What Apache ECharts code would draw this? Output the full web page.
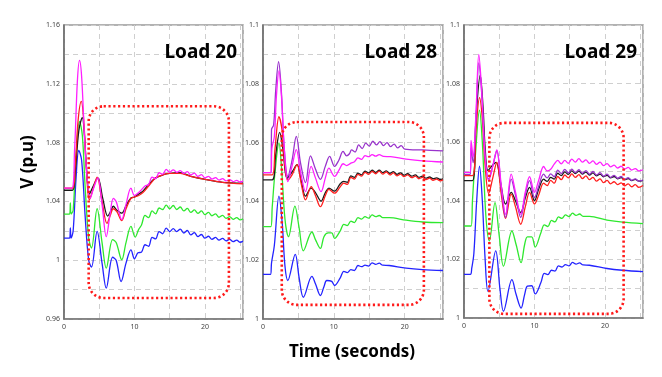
<!DOCTYPE html>
<html>
<head>
<meta charset="utf-8">
<script src="https://cdn.jsdelivr.net/npm/echarts@6/dist/echarts.min.js"></script>
<style>
html,body{margin:0;padding:0;background:#fff;}
#main{width:662px;height:377px;}
</style>
</head>
<body>
<div id="main"></div>
<script>
// panel titles
var panelNames = ['Load 20', 'Load 28', 'Load 29'];
var xTicks = [0, 10, 20];

// Load 20 (time s, voltage p.u.)
var l20Blue = [[0,1.015],[0.8,1.015],[0.9,1.022],[1.0,1.015],[1.3,1.02],[1.7,1.055],[2.1,1.0747],[2.5,1.068],[3.0,1.03],[3.5,1.0],[3.9,0.9953],[4.7,1.0196],[5.4,0.998],[6.0,0.981],[6.9,1.002],[7.4,1.0],[8.1,0.9855],[8.8,0.998],[9.5,1.007],[10.0,1.001],[10.5,1.005],[11.0,1.0055],[11.5,1.0105],[12.0,1.0095],[12.5,1.0155],[13.0,1.0145],[13.5,1.0195],[14.0,1.018],[14.5,1.0218],[15.0,1.0195],[15.5,1.0215],[16.0,1.0195],[16.5,1.0212],[17.0,1.0185],[17.5,1.0202],[18.0,1.0172],[18.5,1.0188],[19.0,1.016],[19.5,1.0175],[20.0,1.015],[20.5,1.0163],[21.0,1.0142],[21.5,1.0155],[22.0,1.0136],[22.5,1.0148],[23.0,1.0131],[23.5,1.0142],[24.0,1.0126],[24.5,1.0137],[25.0,1.0122],[25.4,1.013]];
var l20Green = [[0,1.0314],[0.8,1.0314],[0.9,1.039],[1.0,1.0314],[1.3,1.034],[1.7,1.07],[2.2,1.0945],[2.6,1.085],[3.0,1.05],[3.5,1.015],[3.9,1.0083],[4.7,1.035],[5.4,1.012],[6.0,0.9946],[6.9,1.014],[7.4,1.012],[8.2,1.0003],[8.8,1.012],[9.5,1.023],[10.1,1.0157],[10.6,1.021],[11.0,1.024],[11.5,1.0305],[12.0,1.029],[12.5,1.0335],[13.0,1.0315],[13.5,1.0355],[14.0,1.0345],[14.5,1.0375],[15.0,1.035],[15.5,1.0372],[16.0,1.0345],[16.5,1.0362],[17.0,1.0335],[17.5,1.0352],[18.0,1.0325],[18.5,1.0342],[19.0,1.0318],[19.5,1.0335],[20.0,1.031],[20.5,1.0325],[21.0,1.0302],[21.5,1.0315],[22.0,1.0292],[22.5,1.0305],[23.0,1.0285],[23.5,1.0297],[24.0,1.0278],[24.5,1.029],[25.0,1.0274],[25.4,1.0282]];
var l20Black = [[0,1.0476],[1.2,1.0476],[1.6,1.06],[2.1,1.088],[2.6,1.097],[2.9,1.085],[3.2,1.062],[3.6,1.045],[4.1,1.05],[4.8,1.056],[5.5,1.042],[6.2,1.030],[6.6,1.033],[7.0,1.0367],[7.5,1.034],[8.2,1.032],[8.8,1.037],[9.5,1.0424],[10.0,1.043],[10.6,1.045],[11.2,1.047],[12.1,1.052],[13.0,1.056],[14.0,1.058],[15.0,1.059],[16.5,1.0595],[18,1.057],[20,1.055],[22.5,1.053],[25.4,1.0525]];
var l20Red = [[0,1.049],[1.2,1.049],[1.6,1.065],[2.0,1.095],[2.45,1.108],[2.8,1.095],[3.2,1.06],[3.6,1.041],[4.1,1.048],[4.7,1.0565],[5.4,1.04],[6.1,1.025],[6.6,1.031],[7.0,1.035],[7.5,1.033],[8.2,1.027],[8.8,1.035],[9.5,1.042],[10.0,1.043],[10.6,1.044],[11.2,1.046],[12.1,1.051],[13.0,1.056],[14.0,1.058],[15.0,1.059],[16.5,1.059],[18,1.057],[20,1.055],[22.5,1.053],[25.4,1.052]];
var l20Magenta = [[0,1.049],[1.1,1.049],[1.5,1.075],[1.9,1.122],[2.2,1.136],[2.5,1.125],[2.9,1.085],[3.3,1.055],[3.7,1.042],[4.2,1.049],[4.8,1.056],[5.4,1.038],[6.0,1.016],[6.5,1.03],[7.0,1.042],[7.4,1.04],[8.2,1.0276],[8.8,1.038],[9.5,1.049],[10.0,1.044],[10.6,1.046],[11.0,1.048],[11.5,1.0505],[12.0,1.0515],[12.5,1.0565],[13.0,1.0555],[13.5,1.0595],[14.0,1.0585],[14.5,1.0618],[15.0,1.0598],[15.5,1.0615],[16.0,1.0598],[16.5,1.061],[17.0,1.059],[17.5,1.0602],[18.0,1.058],[18.5,1.0592],[19.0,1.057],[19.5,1.0582],[20.0,1.056],[20.5,1.057],[21.0,1.0552],[21.5,1.0562],[22.0,1.0545],[22.5,1.0555],[23.0,1.054],[23.5,1.0548],[24.0,1.0535],[24.5,1.0543],[25.0,1.0532],[25.4,1.0538]];

// Load 28
var l28Blue = [[0,1.0152],[1.05,1.0152],[1.2,1.019],[1.6,1.025],[2.25,1.0418],[2.7,1.033],[3.1,1.018],[3.5,1.0131],[4.55,1.022],[5.1,1.014],[5.7,1.0074],[6.9,1.0145],[7.4,1.012],[8.1,1.008],[8.6,1.011],[9.0,1.0131],[9.7,1.0128],[10.1,1.0114],[10.9,1.014],[11.4,1.0162],[11.9,1.0158],[12.4,1.0168],[12.9,1.0165],[13.4,1.0182],[13.9,1.0178],[14.4,1.0183],[14.9,1.018],[15.4,1.0191],[15.9,1.0186],[16.4,1.019],[16.9,1.0183],[17.8,1.0182],[20.2,1.0173],[22.5,1.0168],[25.4,1.0165]];
var l28Green = [[0,1.0314],[1.1,1.0314],[1.3,1.038],[1.7,1.05],[2.25,1.0599],[2.6,1.052],[3.1,1.034],[3.6,1.028],[4.5,1.0384],[5.1,1.031],[5.7,1.0232],[6.9,1.0296],[7.4,1.027],[8.1,1.024],[8.6,1.028],[9.2,1.0293],[9.7,1.0293],[10.1,1.0274],[10.9,1.030],[11.4,1.0322],[11.9,1.0318],[12.4,1.0333],[12.9,1.0328],[13.4,1.0345],[13.9,1.034],[14.4,1.0348],[14.9,1.0343],[15.4,1.0354],[15.9,1.0348],[16.4,1.0352],[16.9,1.0345],[17.8,1.0345],[20.2,1.0336],[22.5,1.033],[25.4,1.0328]];
var l28Black = [[0,1.0473],[1.3,1.0473],[1.8,1.056],[2.35,1.0635],[2.8,1.058],[3.4,1.0479],[4.1,1.05],[4.8,1.0525],[5.4,1.047],[6.0,1.0418],[6.8,1.0445],[7.4,1.043],[8.2,1.0401],[8.8,1.043],[9.3,1.0445],[10.1,1.0435],[10.9,1.046],[11.4,1.0468],[11.9,1.0465],[12.4,1.0487],[12.9,1.0482],[13.4,1.0496],[13.9,1.049],[14.4,1.0503],[14.9,1.0497],[15.4,1.0506],[15.9,1.0499],[16.4,1.0506],[16.9,1.0498],[17.4,1.0504],[17.9,1.0495],[18.4,1.0501],[18.9,1.0492],[19.4,1.0497],[19.9,1.0489],[20.4,1.0494],[21.0,1.0486],[21.5,1.049],[22.0,1.0482],[22.5,1.0486],[23.0,1.0479],[23.5,1.0483],[24.0,1.0477],[24.5,1.048],[25.0,1.0475],[25.4,1.0477]];
var l28Red = [[0,1.049],[1.3,1.049],[1.7,1.058],[2.25,1.0688],[2.7,1.064],[3.1,1.052],[3.5,1.0473],[4.1,1.049],[4.8,1.0525],[5.4,1.046],[6.0,1.0405],[6.8,1.045],[7.4,1.042],[8.1,1.0382],[8.8,1.042],[9.3,1.0441],[10.1,1.0428],[10.9,1.045],[11.4,1.0462],[11.9,1.0458],[12.4,1.0482],[12.9,1.0476],[13.4,1.0492],[13.9,1.0486],[14.4,1.0499],[14.9,1.0492],[15.4,1.0502],[15.9,1.0494],[16.4,1.0503],[16.9,1.0493],[17.4,1.05],[17.9,1.049],[18.4,1.0497],[18.9,1.0487],[19.4,1.0493],[19.9,1.0484],[20.4,1.049],[21.0,1.0481],[21.5,1.0486],[22.0,1.0477],[22.5,1.0482],[23.0,1.0474],[23.5,1.0479],[24.0,1.0472],[24.5,1.0476],[25.0,1.047],[25.4,1.0473]];
var l28Purple = [[0,1.0498],[1.15,1.0498],[1.2,1.0644],[1.5,1.066],[1.8,1.078],[2.2,1.0875],[2.6,1.077],[3.0,1.058],[3.5,1.0485],[4.1,1.054],[4.7,1.0621],[5.3,1.053],[6.0,1.0464],[6.7,1.0555],[7.4,1.051],[8.1,1.0475],[8.8,1.052],[9.4,1.0553],[10.1,1.0519],[10.7,1.054],[11.3,1.057],[11.8,1.0555],[12.2,1.0562],[12.5,1.0575],[13.0,1.0568],[13.5,1.0592],[14.0,1.058],[14.5,1.0598],[15.0,1.0588],[15.5,1.0605],[16.0,1.0592],[16.5,1.0603],[17.0,1.059],[17.5,1.06],[18.0,1.0586],[18.5,1.0595],[19.0,1.0582],[19.5,1.059],[20.0,1.0578],[22.5,1.0575],[25.4,1.0572]];
var l28Magenta = [[0,1.0498],[1.15,1.0498],[1.25,1.058],[1.6,1.062],[1.9,1.076],[2.25,1.0844],[2.6,1.076],[3.0,1.058],[3.5,1.0467],[4.1,1.052],[4.7,1.0576],[5.3,1.05],[6.0,1.0433],[6.8,1.0519],[7.4,1.048],[8.2,1.0433],[8.8,1.048],[9.3,1.0513],[10.1,1.0485],[10.8,1.051],[11.3,1.0528],[11.8,1.0522],[12.4,1.053],[12.9,1.0535],[13.4,1.0548],[13.9,1.0543],[14.4,1.0556],[14.9,1.0552],[15.4,1.0559],[15.9,1.0554],[16.4,1.0559],[17.0,1.0553],[18,1.0552],[20.2,1.0544],[22.5,1.0538],[25.4,1.0534]];

// Load 29
var l29Blue = [[0,1.0149],[0.9,1.0149],[1.1,1.017],[1.4,1.022],[1.8,1.04],[2.2,1.0518],[2.6,1.04],[3.0,1.02],[3.4,1.0091],[4.5,1.0229],[5.1,1.01],[5.6,1.0023],[6.8,1.0131],[7.4,1.008],[8.1,1.0034],[8.6,1.008],[9.0,1.0109],[9.6,1.011],[10.1,1.0082],[10.9,1.012],[11.4,1.0152],[11.9,1.0148],[12.4,1.0163],[12.9,1.016],[13.4,1.0178],[13.9,1.0174],[14.4,1.0182],[14.9,1.0178],[15.4,1.019],[15.9,1.0184],[16.4,1.0188],[16.9,1.0181],[17.8,1.018],[20.3,1.0169],[22.5,1.0163],[25.4,1.0158]];
var l29Green = [[0,1.0314],[1.0,1.0314],[1.2,1.04],[1.6,1.055],[2.2,1.0709],[2.6,1.06],[3.1,1.035],[3.6,1.0263],[4.4,1.0394],[5.0,1.028],[5.6,1.0177],[6.8,1.0297],[7.4,1.025],[8.1,1.0189],[8.6,1.025],[9.0,1.0277],[9.6,1.0277],[10.1,1.0242],[10.9,1.029],[11.4,1.0318],[11.9,1.0312],[12.4,1.0333],[12.9,1.0328],[13.4,1.0345],[13.9,1.034],[14.4,1.0352],[14.9,1.0346],[15.4,1.0358],[15.9,1.035],[16.4,1.0355],[16.9,1.0347],[17.8,1.0347],[20.3,1.0334],[22.5,1.0327],[25.4,1.0322]];
var l29Black = [[0,1.0469],[1.2,1.0469],[1.7,1.068],[2.3,1.0829],[2.7,1.072],[3.0,1.058],[3.4,1.0503],[4.0,1.052],[4.55,1.0531],[5.2,1.046],[5.9,1.0389],[6.7,1.0429],[7.3,1.04],[8.05,1.036],[8.7,1.041],[9.3,1.0446],[10.0,1.04],[10.6,1.044],[11.3,1.0474],[11.8,1.0466],[12.3,1.048],[12.8,1.0474],[13.3,1.0494],[13.8,1.0486],[14.3,1.0499],[14.8,1.049],[15.3,1.0502],[15.8,1.0493],[16.3,1.0501],[16.8,1.0491],[17.3,1.0498],[17.8,1.0488],[18.3,1.0495],[18.8,1.0485],[19.3,1.0491],[19.8,1.0482],[20.3,1.0487],[20.8,1.0478],[21.3,1.0483],[21.8,1.0475],[22.3,1.0479],[22.8,1.0472],[23.3,1.0476],[23.8,1.0469],[24.3,1.0473],[24.8,1.0467],[25.4,1.047]];
var l29Red = [[0,1.0486],[1.2,1.0486],[1.7,1.064],[2.2,1.0752],[2.6,1.068],[3.0,1.052],[3.5,1.0425],[4.1,1.048],[4.65,1.0531],[5.3,1.042],[5.9,1.034],[6.7,1.0423],[7.3,1.038],[8.05,1.032],[8.7,1.038],[9.3,1.0429],[10.0,1.0389],[10.6,1.042],[11.3,1.046],[11.8,1.0452],[12.3,1.047],[12.8,1.046],[13.3,1.0483],[13.8,1.0472],[14.3,1.0488],[14.8,1.0478],[15.3,1.0492],[15.8,1.048],[16.3,1.0489],[16.8,1.0476],[17.3,1.0485],[17.8,1.0472],[18.3,1.048],[18.8,1.0467],[19.3,1.0475],[19.8,1.0462],[20.3,1.047],[20.8,1.0458],[21.3,1.0465],[21.8,1.0455],[22.3,1.0461],[22.8,1.0451],[23.3,1.0458],[23.8,1.0448],[24.3,1.0455],[24.8,1.0446],[25.4,1.0452]];
var l29Purple = [[0,1.049],[0.9,1.049],[1.0,1.058],[1.3,1.053],[1.7,1.068],[2.1,1.0871],[2.5,1.077],[3.0,1.055],[3.5,1.0474],[4.1,1.052],[4.65,1.0571],[5.3,1.044],[5.9,1.0343],[6.7,1.0474],[7.3,1.042],[8.05,1.0343],[8.7,1.042],[9.3,1.0469],[10.0,1.0411],[10.6,1.045],[11.3,1.0491],[11.8,1.0478],[12.3,1.0492],[12.8,1.0482],[13.3,1.0505],[13.8,1.0493],[14.3,1.0507],[14.8,1.0495],[15.3,1.0508],[15.8,1.0496],[16.3,1.0506],[16.8,1.0494],[17.3,1.0503],[17.8,1.0491],[18.3,1.05],[18.8,1.0488],[19.3,1.0496],[19.8,1.0484],[20.3,1.0491],[20.8,1.048],[21.3,1.0487],[21.8,1.0477],[22.3,1.0483],[22.8,1.0473],[23.3,1.0479],[23.8,1.047],[24.3,1.0475],[24.8,1.0467],[25.4,1.0471]];
var l29Magenta = [[0,1.0497],[0.9,1.0497],[1.0,1.0606],[1.3,1.055],[1.7,1.07],[2.1,1.090],[2.5,1.078],[3.0,1.055],[3.5,1.0469],[4.1,1.052],[4.65,1.0574],[5.3,1.045],[5.9,1.0354],[6.7,1.0491],[7.3,1.043],[8.05,1.0354],[8.7,1.043],[9.3,1.0482],[10.0,1.0429],[10.6,1.047],[11.3,1.0517],[11.8,1.0502],[12.3,1.0508],[12.8,1.0525],[13.3,1.0538],[13.8,1.0526],[14.3,1.0538],[14.8,1.0528],[15.3,1.0542],[15.8,1.0532],[16.3,1.0544],[16.8,1.0532],[17.3,1.054],[17.8,1.0528],[18.3,1.0536],[18.8,1.0524],[19.3,1.0532],[19.8,1.052],[20.3,1.0527],[20.8,1.0516],[21.3,1.0522],[21.8,1.0512],[22.3,1.0518],[22.8,1.0508],[23.3,1.0514],[23.8,1.0505],[24.3,1.051],[24.8,1.0502],[25.4,1.0506]];

// highlighted zones [t0, vTop, t1, vBottom]
var zones = [[3.5,1.1047,23.4,0.9743],[2.65,1.067,22.7,1.0048],[3.6,1.0666,22.65,1.0014]];

var chart = echarts.init(document.getElementById('main'));
var font = '"Noto Sans", "Open Sans", sans-serif';
var grids = [
    {left:64, top:25, width:179, height:294},
    {left:263, top:25, width:180, height:294},
    {left:464, top:25, width:179, height:293}
];
var yRanges = [[0.96,1.16,0.02],[1,1.1,0.01],[1,1.1,0.01]];

var panels = [
    [l20Blue, l20Green, l20Black, l20Red, null, l20Magenta],
    [l28Blue, l28Green, l28Black, l28Red, l28Purple, l28Magenta],
    [l29Blue, l29Green, l29Black, l29Red, l29Purple, l29Magenta]
];
var colors = ['#2323ff', '#2ee82e', '#1a1a1a', '#ff1f1f', '#9933cc', '#ff1fff'];

var dashLine = {show:true, lineStyle:{color:'#cfcfcf', type:[5,4], width:1}};

var xAxes = grids.map(function(g, i){
    return {
        type:'value', gridIndex:i, min:0, max:25.4, interval:5,
        axisLine:{show:true, lineStyle:{color:'#777', width:1.5}},
        axisTick:{show:false},
        axisLabel:{
            fontSize:7, color:'#444', margin:4, fontFamily:font,
            formatter:function(v){ return xTicks.indexOf(v) >= 0 ? String(v) : ''; }
        },
        splitLine:dashLine
    };
});
var yAxes = grids.map(function(g, i){
    var r = yRanges[i];
    return {
        type:'value', gridIndex:i, min:r[0], max:r[1], interval:r[2],
        axisLine:{show:true, lineStyle:{color:'#666', width:1.5}},
        axisTick:{show:false},
        axisLabel:{
            fontSize:7, color:'#444', margin:4, fontFamily:font,
            formatter:function(v){
                var k = Math.round((v - r[0]) / r[2]);
                return k % 2 === 0 ? String(Math.round(v * 100) / 100) : '';
            }
        },
        splitLine:dashLine
    };
});

var series = [];
panels.forEach(function(lines, i){
    lines.forEach(function(d, j){
        if(!d) return;
        series.push({
            type:'line', xAxisIndex:i, yAxisIndex:i,
            data:d, smooth:0.35, showSymbol:false,
            lineStyle:{color:colors[j], width:1.3},
            itemStyle:{color:colors[j]},
            silent:true
        });
    });
});

chart.setOption({
    animation:false,
    backgroundColor:'#fff',
    grid:grids.map(function(g){
        return Object.assign({show:true, borderColor:'#999', borderWidth:1.5, containLabel:false}, g);
    }),
    xAxis:xAxes,
    yAxis:yAxes,
    series:series
});

// zone boxes + texts
var graphics = [];
zones.forEach(function(z, i){
    var p0 = chart.convertToPixel({gridIndex:i}, [z[0], z[1]]);
    var p1 = chart.convertToPixel({gridIndex:i}, [z[2], z[3]]);
    graphics.push({
        type:'rect', silent:true, z:100,
        shape:{x:p0[0], y:p0[1], width:p1[0]-p0[0], height:p1[1]-p0[1], r:15},
        style:{fill:null, stroke:'#ff1a1a', lineWidth:2.6, lineDash:[2.2,2.6]}
    });
    var g = grids[i];
    graphics.push({
        type:'text', silent:true, z:101,
        x:g.left + g.width - 6, y:53,
        style:{text:panelNames[i], align:'right', verticalAlign:'middle', font:'bold 19px ' + font, fill:'#000'}
    });
});
graphics.push({
    type:'text', silent:true, x:28, y:162, rotation:Math.PI/2,
    style:{text:'V (p.u)', align:'center', verticalAlign:'middle', font:'bold 17px ' + font, fill:'#000'}
});
graphics.push({
    type:'text', silent:true, x:352, y:352,
    style:{text:'Time (seconds)', align:'center', verticalAlign:'middle', font:'bold 17px ' + font, fill:'#000'}
});
chart.setOption({graphic:graphics});
</script>
</body>
</html>
